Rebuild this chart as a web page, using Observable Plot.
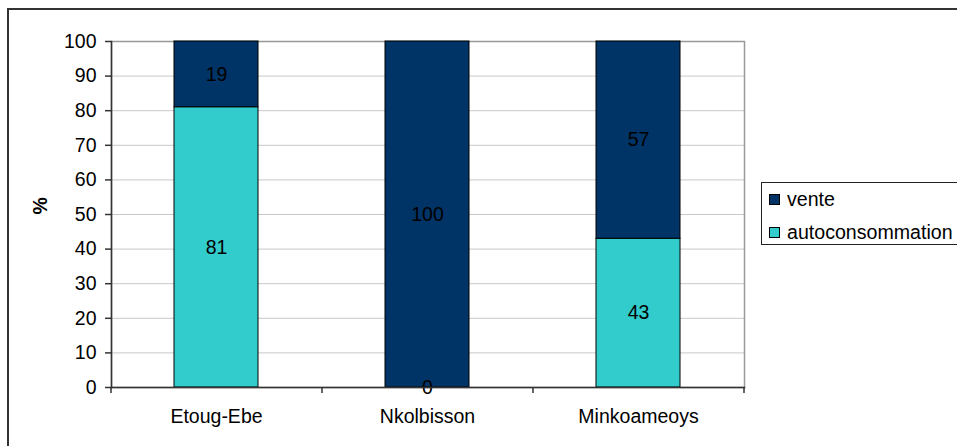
<!DOCTYPE html>
<html>
<head>
<meta charset="utf-8">
<script src="https://cdn.jsdelivr.net/npm/d3@7"></script>
<script src="https://cdn.jsdelivr.net/npm/@observablehq/plot@0.6"></script>
<style>
  html, body { margin: 0; padding: 0; background: #fff; }
  #wrap { position: relative; width: 957px; height: 446px; overflow: hidden; font-family: "Liberation Sans", Arial, sans-serif; }
  #outer { position: absolute; left: 7px; top: 8px; width: 1000px; height: 1000px; border-left: 2px solid #333; border-top: 2px solid #333; pointer-events: none; }
  #legend { position: absolute; left: 761px; top: 182px; width: 220px; height: 63px; border: 1px solid #222; background: #fff; box-sizing: border-box; }
  .item { position: absolute; left: 7px; display: flex; align-items: center; font-size: 19.6px; color: #000; }
  .sw { width: 9px; height: 9px; border: 1px solid #000; margin-right: 7px; }
</style>
</head>
<body>
<div id="wrap">
  <div id="chart"></div>
  <div id="outer"></div>
  <div id="legend"></div>
</div>
<script>
const categories = ["Etoug-Ebe", "Nkolbisson", "Minkoameoys"];
const series = ["autoconsommation", "vente"];
const autoconsommation = [81, 0, 43];
const vente = [19, 100, 57];
const colors = ["#33CCCC", "#003366"];
const yTicks = [0, 10, 20, 30, 40, 50, 60, 70, 80, 90, 100];

const data = [];
categories.forEach((c, i) => {
  data.push({cat: c, series: "autoconsommation", value: autoconsommation[i]});
  data.push({cat: c, series: "vente", value: vente[i]});
});

const font = "Liberation Sans, Arial, sans-serif";
const fs = 19.5;

const chart = Plot.plot({
  width: 957,
  height: 446,
  marginLeft: 111,
  marginRight: 213,
  marginTop: 41,
  marginBottom: 59,
  style: {fontFamily: font, fontSize: fs + "px", color: "#000", background: "transparent"},
  x: {domain: categories, paddingInner: 0.6, paddingOuter: 0.3, label: null},
  y: {domain: [0, 100], label: null},
  color: {domain: series, range: colors},
  marks: [
    Plot.gridY(yTicks, {stroke: "#c8c8c8", strokeOpacity: 1}),
    Plot.frame({stroke: "#999", strokeWidth: 1.5}),
    Plot.barY(data, {x: "cat", y: "value", z: "series", fill: "series", stroke: "#000", strokeWidth: 1, order: series}),
    Plot.text(data, Plot.stackY({x: "cat", y: "value", z: "series", text: d => String(d.value), order: series, fill: "#000", fontSize: fs})),
    Plot.frame({anchor: "left", stroke: "#333", strokeWidth: 1.5}),
    Plot.frame({anchor: "bottom", stroke: "#333", strokeWidth: 1.5}),
    Plot.axisY(yTicks, {tickSize: 6, tickPadding: 9, fontSize: fs, stroke: "#333", strokeWidth: 1.5, label: null}),
    Plot.axisX({tickSize: 0, tickPadding: 22, fontSize: fs, label: null}),
    Plot.ruleX(categories, {x: d => d, dx: 105.5, y1: 0, y2: 0, insetTop: 0, insetBottom: -6, stroke: "#333", strokeWidth: 1.5}),
    Plot.ruleX(categories.slice(0, 1), {x: d => d, dx: -105.5, y1: 0, y2: 0, insetTop: 0, insetBottom: -6, stroke: "#333", strokeWidth: 1.5}),
    Plot.text(["%"], {frameAnchor: "left", dx: -71, rotate: -90, fontWeight: "bold", fontSize: fs, fill: "#000"})
  ]
});
document.getElementById("chart").appendChild(chart);

const legend = document.getElementById("legend");
const legendOrder = ["vente", "autoconsommation"];
legendOrder.forEach((s, i) => {
  const it = document.createElement("div");
  it.className = "item";
  it.style.top = (5 + i * 33) + "px";
  const sw = document.createElement("div");
  sw.className = "sw";
  sw.style.background = colors[series.indexOf(s)];
  const t = document.createElement("span");
  t.textContent = s;
  it.appendChild(sw);
  it.appendChild(t);
  legend.appendChild(it);
});
</script>
</body>
</html>
